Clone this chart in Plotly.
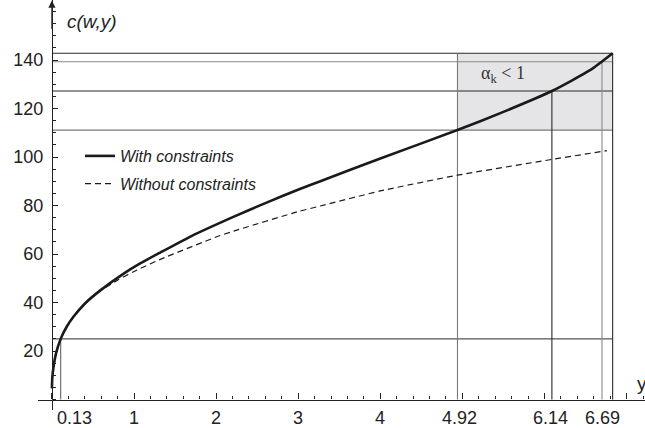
import plotly.graph_objects as go

# ---- data ----
y_with = [0.0, 0.005, 0.02, 0.05, 0.107, 0.18, 0.26, 0.4, 0.59, 0.87, 1.07, 1.32, 1.7, 2.21, 2.6, 3.02, 3.27, 4.0, 4.94, 5.5, 6.09, 6.56, 6.83]
c_with = [4.6, 9.0, 13.5, 19.0, 25.0, 30.0, 34.0, 39.5, 45.0, 51.8, 56.0, 60.6, 67.4, 75.3, 81.0, 86.8, 90.0, 99.4, 111.1, 118.6, 127.2, 135.9, 142.8]

y_without = [0.0, 0.005, 0.02, 0.05, 0.107, 0.18, 0.26, 0.4, 0.59, 0.8, 1.0, 1.32, 2.0, 2.21, 3.0, 3.27, 4.0, 4.94, 6.09, 6.76]
c_without = [4.6, 9.0, 13.5, 19.0, 25.0, 30.0, 34.0, 39.5, 44.8, 49.2, 52.8, 57.8, 67.0, 69.4, 77.5, 79.8, 86.0, 92.5, 99.0, 102.6]

# reference levels (horizontal) and reference abscissas (vertical)
ref_c_levels = [25.0, 111.1, 127.2, 139.3, 142.8]
ref_y_marks = [0.107, 4.94, 6.09, 6.70, 6.83]
ref_y_tops = [25.0, 142.8, 127.2, 139.3, 142.8]

xtick_text = ["0.13", "1", "2", "3", "4", "4.92", "6.14", "6.69"]
xtick_pos = [ref_y_marks[0], 1, 2, 3, 4, ref_y_marks[1], ref_y_marks[2], ref_y_marks[3]]
xtick_shift = [14, 0, 0, 0, 0, 2, -1, 1]

ytick_vals = [20, 40, 60, 80, 100, 120, 140]

# ---- styling ----
FONT = "Liberation Sans, Arial, sans-serif"
h_colors = ["#555555", "#7a7a7a", "#2a2a2a", "#8a8a8a", "#2a2a2a"]
v_colors = ["#666666", "#7a7a7a", "#2a2a2a", "#8a8a8a", "#2a2a2a"]

fig = go.Figure()

fig.add_trace(go.Scatter(
    x=y_with, y=c_with, mode="lines", name="With constraints",
    line=dict(color="#1a1a1a", width=2.6, shape="spline", smoothing=0.5),
    legendgroup="a",
))
fig.add_trace(go.Scatter(
    x=y_without, y=c_without, mode="lines", name="Without constraints",
    line=dict(color="#1a1a1a", width=1.2, dash="6px,4px", shape="spline", smoothing=0.5),
    legendgroup="b",
))

x_end = ref_y_marks[-1]
shapes = []
# shaded region alpha_k < 1
shapes.append(dict(type="rect", xref="x", yref="y", layer="below",
                   x0=ref_y_marks[1], x1=ref_y_marks[-1], y0=ref_c_levels[1], y1=ref_c_levels[-1],
                   fillcolor="#e5e5e7", line=dict(width=0)))
for lvl, col in zip(ref_c_levels, h_colors):
    shapes.append(dict(type="line", xref="x", yref="y", layer="below",
                       x0=0, x1=x_end, y0=lvl, y1=lvl, line=dict(color=col, width=1.1)))
for xv, top, col in zip(ref_y_marks, ref_y_tops, v_colors):
    shapes.append(dict(type="line", xref="x", yref="y", layer="below",
                       x0=xv, x1=xv, y0=0, y1=top, line=dict(color=col, width=1.1)))

annotations = []
for txt, pos, sh in zip(xtick_text, xtick_pos, xtick_shift):
    annotations.append(dict(x=pos, y=0, xref="x", yref="y", text=txt, showarrow=False,
                            xanchor="center", yanchor="top", xshift=sh, yshift=-6,
                            font=dict(family=FONT, size=18, color="#222222")))
# y-axis arrow
annotations.append(dict(x=0, y=164.5, xref="x", yref="y", ax=0, ay=30, axref="pixel", ayref="pixel",
                        text="", showarrow=True, arrowhead=2, arrowsize=1.2, arrowwidth=1.2,
                        arrowcolor="#222222"))
annotations.append(dict(x=0.16, y=156.0, xref="x", yref="y", text="c(w,y)", showarrow=False,
                        xanchor="left", yanchor="middle",
                        font=dict(family=FONT, size=19, color="#222222", style="italic")))
annotations.append(dict(x=7.1, y=6.8, xref="x", yref="y", text="y", showarrow=False,
                        xanchor="left", yanchor="middle",
                        font=dict(family=FONT, size=19, color="#222222")))
annotations.append(dict(x=5.5, y=134.0, xref="x", yref="y", text="α<sub>k</sub> &lt; 1", showarrow=False,
                        xanchor="center", yanchor="middle",
                        font=dict(family="Liberation Serif, Times New Roman, serif", size=18, color="#333333")))

fig.update_layout(
    width=645, height=428,
    margin=dict(l=38, r=0, t=0, b=18, pad=0, autoexpand=False),
    paper_bgcolor="white", plot_bgcolor="white",
    shapes=shapes, annotations=annotations,
    showlegend=True,
    legend=dict(x=(80 - 38) / 607, y=(410 - 139) / 410, xanchor="left", yanchor="top",
                bgcolor="rgba(0,0,0,0)", tracegroupgap=4,
                font=dict(family=FONT, size=16, color="#222222", style="italic")),
    xaxis=dict(range=[(38 - 51.9) / 82.1, (645 - 51.9) / 82.1], anchor="free",
               position=(410 - 399.5) / 410, automargin=False,
               showgrid=False, zeroline=False, showline=True, linecolor="#222222", linewidth=1.2,
               tickvals=[0, 1, 2, 3, 4, 5, 6, 7], showticklabels=False,
               ticks="inside", ticklen=6, tickwidth=1, tickcolor="#222222",
               minor=dict(dtick=0.2, tick0=0, ticks="inside", ticklen=3, tickwidth=1, tickcolor="#222222")),
    yaxis=dict(range=[(399.5 - 410) / 2.425, 399.5 / 2.425], anchor="free",
               position=(51.9 - 38) / 607, automargin=False,
               showgrid=False, zeroline=False, showline=True, linecolor="#222222", linewidth=1.2,
               tickvals=ytick_vals, ticktext=[str(v) for v in ytick_vals],
               ticks="inside", ticklen=5, tickwidth=1, tickcolor="#222222",
               ticklabelstandoff=5,
               tickfont=dict(family=FONT, size=18, color="#222222"),
               minor=dict(dtick=5, tick0=0, ticks="inside", ticklen=3, tickwidth=1, tickcolor="#222222")),
)

fig.write_html("out.html", config={"displayModeBar": False},
               post_script="document.body.style.margin='0';document.body.style.overflow='hidden';")
